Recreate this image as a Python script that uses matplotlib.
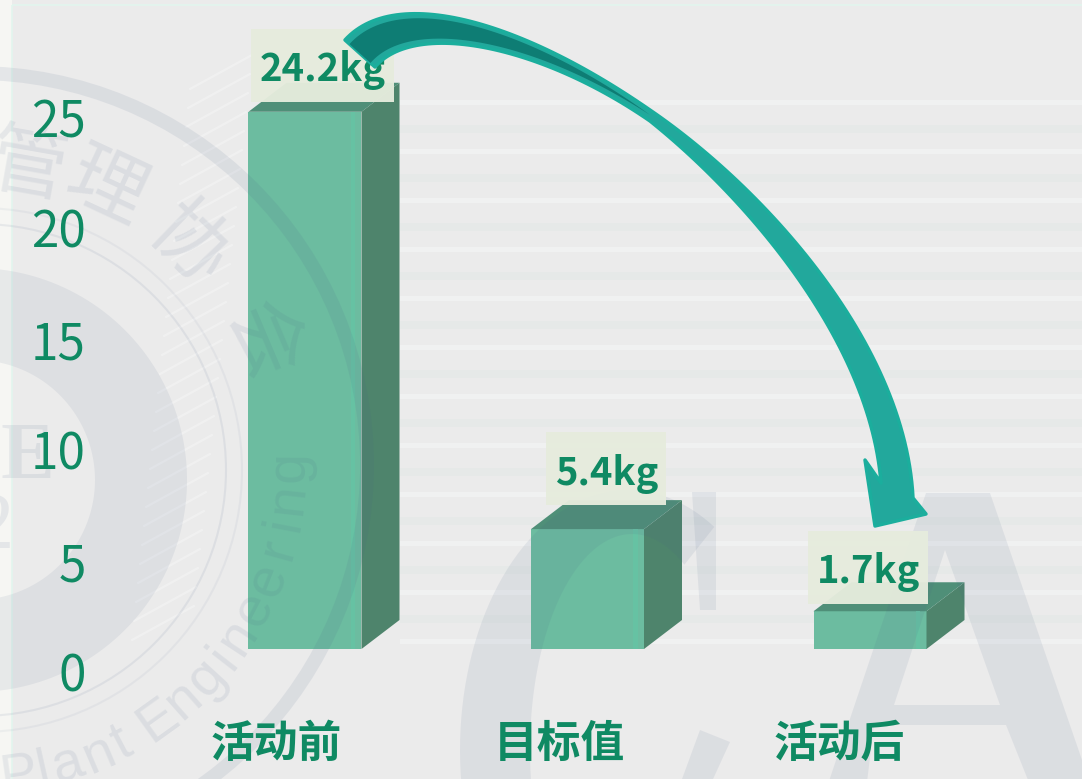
import numpy as np
import matplotlib
matplotlib.use("Agg")
import matplotlib.pyplot as plt
from matplotlib.patches import Polygon, Rectangle, Circle, PathPatch
from matplotlib.path import Path
from matplotlib.transforms import Affine2D, ScaledTranslation

plt.rcParams['font.family'] = ['Noto Sans CJK SC', 'DejaVu Sans']

# Chart data
categories = ['活动前', '目标值', '活动后']
values = [24.2, 5.4, 1.7]
value_labels = ['24.2kg', '5.4kg', '1.7kg']
y_ticks = [0, 5, 10, 15, 20, 25]

# Styling
GREEN_TEXT = '#0f8a63'
FRONT = '#6cbca0'
SIDE = '#4e846c'
TOP = '#4f8f78'
BG = '#ebebeb'
MARK = '#4a6288'

W, H = 1082, 779
fig = plt.figure(figsize=(W / 100, H / 100), dpi=100, facecolor=BG)
ax = fig.add_axes([0, 0, 1, 1], facecolor='none')

X0, XS = 305.0, 282.5     # pixel of category 0, pixels per category
Y0, YS = 649.0, 22.2      # pixel of value 0, pixels per unit
ax.set_xlim(-X0 / XS, (W - X0) / XS)
ax.set_ylim(-(H - Y0) / YS, Y0 / YS)
for s in ax.spines.values():
    s.set_visible(False)

# Image-style pixel coordinates, origin at top left
px = Affine2D().scale(1, -1).translate(0, H)


def bezier(p0, p1, p2, p3, n=60):
    """Sample a cubic Bezier segment."""
    t = np.linspace(0, 1, n)[:, None]
    p0, p1, p2, p3 = map(np.array, (p0, p1, p2, p3))
    return (1 - t) ** 3 * p0 + 3 * (1 - t) ** 2 * t * p1 + 3 * (1 - t) * t ** 2 * p2 + t ** 3 * p3


def ring_path(cx, cy, r_out, r_in):
    """Closed annulus as a compound path."""
    th = np.linspace(0, 2 * np.pi, 200)
    verts = np.concatenate([
        np.c_[cx + r_out * np.cos(th), cy + r_out * np.sin(th)],
        np.c_[cx + r_in * np.cos(th[::-1]), cy + r_in * np.sin(th[::-1])]])
    codes = [Path.MOVETO] + [Path.LINETO] * 199 + [Path.MOVETO] + [Path.LINETO] * 199
    return Path(verts, codes)


# ---- page background: pale frame and horizontal banding ----
ax.add_patch(Rectangle((0, 0), 12, H, transform=px, fc='#f6f6f3', ec='none', zorder=0))
ax.add_patch(Rectangle((12, 5), W, H, transform=px, fc='none', ec='#e2f5ee', lw=1.2, zorder=0.2))
for i, y in enumerate(np.arange(100, 640, 24.5)):
    col = '#f6f7f7' if i % 2 == 0 else '#e3e8e7'
    ax.add_patch(Rectangle((400, y), W - 400, 5 if i % 2 == 0 else 8, transform=px,
                           fc=col, ec='none', alpha=0.5, zorder=0.3))

# Pale diagonal hatching behind the bars
for k in range(30):
    x = 132 + k * 2
    y = 640 - k * 19
    ax.plot([x, x + 62], [y, y - 34], transform=px, color='#f7f8f8', lw=1.6, alpha=0.45,
            zorder=1, solid_capstyle='round')

# ---- 3D bars ----
DX, DY = 38 / XS, 29 / YS
half = 0.2
for i, v in enumerate(values):
    ax.bar(i, v, width=2 * half, color=FRONT, edgecolor='none', zorder=2)
    ax.bar(i + half - 0.03, v, width=0.015, color='#66c2a3', edgecolor='none', zorder=2.1)
    r, l = i + half, i - half
    ax.add_patch(Polygon([(r, 0), (r + DX, DY), (r + DX, v + DY), (r, v)],
                         fc=SIDE, ec='none', zorder=2))
    ax.add_patch(Polygon([(l, v), (l + DX, v + DY), (r + DX, v + DY), (r, v)],
                         fc=TOP, ec='none', zorder=2))

# ---- translucent emblem lying over the bars ----
CX, CY = -25, 465
wm = dict(transform=px, zorder=3, clip_on=True)
ax.add_patch(Circle((CX, CY), 392, fc='none', ec=MARK, alpha=0.10, lw=10, **wm))
ax.add_patch(Circle((CX + 5, CY + 5), 246, fc='none', ec=MARK, alpha=0.09, lw=1.5, **wm))
ax.add_patch(Circle((CX + 5, CY + 5), 262, fc='none', ec=MARK, alpha=0.06, lw=1.5, **wm))
ax.add_patch(PathPatch(ring_path(CX, CY + 15, 212, 120), fc=MARK, ec='none', alpha=0.085, **wm))
for ch, (x, y), rot in zip('管理协会', [(28, 168), (105, 190), (188, 246), (262, 342)],
                           [-10, -25, -44, -67]):
    ax.text(x, y, ch, transform=px, rotation=rot, rotation_mode='anchor', ha='center', va='center',
            fontsize=56, color=MARK, alpha=0.10, zorder=3)
ax.text(56, 458, 'PE', transform=px, ha='right', va='center', fontsize=58, fontweight='bold',
        family='Liberation Serif', color=MARK, alpha=0.10, zorder=3)
ax.text(14, 528, '2', transform=px, ha='right', va='center', fontsize=58,
        family='Liberation Serif', color=MARK, alpha=0.10, zorder=3)
caption = 'Plant Engineering'
steps = [0.62 if ch in 'ilt ' else 1.12 for ch in caption]
phi = 85.0
for ch, step in zip(caption, steps):
    phi -= step * 2.65
    x = CX + 315 * np.cos(np.radians(phi))
    y = CY + 315 * np.sin(np.radians(phi))
    ax.text(x, y, ch, transform=px, rotation=90 - phi, rotation_mode='anchor', ha='center',
            va='center', fontsize=40, family='Liberation Sans', color=MARK, alpha=0.10, zorder=3)
    phi -= step * 2.65

# Large letters at lower right
t2 = np.radians(np.linspace(-30, 215, 100))
outer = np.c_[628 + 168 * np.cos(t2), 750 - 260 * np.sin(t2)]
inner = np.c_[632 + 102 * np.cos(t2[::-1]), 750 - 216 * np.sin(t2[::-1])]
ax.add_patch(Polygon(np.vstack([outer[36:], inner[:64]]), fc=MARK, ec='none', alpha=0.095, **wm))
ax.add_patch(Polygon([(692, 492), (716, 492), (716, 610), (700, 610)], fc=MARK, ec='none', alpha=0.095, **wm))
ax.add_patch(Polygon([(700, 730), (730, 742), (708, 790), (678, 790)], fc=MARK, ec='none', alpha=0.095, **wm))
a_outline = [(926, 493), (990, 493), (1082, 760), (1082, 790), (1032, 790), (1006, 725),
             (874, 725), (866, 790), (826, 790), (926, 493)]
a_counter = [(945, 550), (894, 705), (1000, 705), (945, 550)]
a_codes = [Path.MOVETO] + [Path.LINETO] * (len(a_outline) - 1)
a_codes += [Path.MOVETO] + [Path.LINETO] * (len(a_counter) - 1)
ax.add_patch(PathPatch(Path(a_outline + a_counter, a_codes), fc=MARK, ec='none', alpha=0.095, **wm))

# ---- axis labels ----
ax.set_yticks(y_ticks)
ax.set_xticks(range(len(categories)))
ax.set_xticklabels(categories)
ax.tick_params(axis='y', length=0, pad=-61.8, labelsize=35.5, labelcolor=GREEN_TEXT)
ax.tick_params(axis='x', length=0, pad=-41, labelsize=31.5, labelcolor=GREEN_TEXT)
ax.xaxis.set_zorder(5)
ax.yaxis.set_zorder(5)
for lab in ax.get_yticklabels():
    lab.set_transform(lab.get_transform() + ScaledTranslation(0, -23 / 100, fig.dpi_scale_trans))
for lab, dx in zip(ax.get_xticklabels(), [-29, -28, -31]):
    lab.set_fontweight('bold')
    lab.set_transform(lab.get_transform() + ScaledTranslation(dx / 100, 0, fig.dpi_scale_trans))

# ---- value badges ----
badges = [(251, 29, 143, 73), (546, 432, 120, 73), (808, 531, 120, 73)]
for (x, y, w, h), label in zip(badges, value_labels):
    ax.add_patch(Rectangle((x, y), w, h, transform=px, fc='#e6ecdd', ec='none', alpha=0.96, zorder=4))
    ax.text(x + w / 2 + 0.5, y + h / 2 + 5, label, transform=px, ha='center', va='center',
            fontsize=27.5, fontweight='bold', color=GREEN_TEXT, zorder=5)

# ---- curved arrow ----
outer_a = bezier((345, 40), (395, -15), (520, 20), (650, 110))
outer_b = bezier((650, 110), (760, 185), (905, 340), (913, 498))
inner_a = bezier((375, 67), (415, 20), (540, 45), (650, 121))
inner_b = bezier((650, 121), (745, 197), (870, 340), (881, 483))
head = np.array([(926, 514), (875, 526), (865, 460)])
arrow = np.vstack([outer_a, outer_b, head, inner_b[::-1], inner_a[::-1]])
ax.add_patch(Polygon(arrow, closed=True, transform=px, fc='#22a89c', ec='#1bae9d', lw=2.5,
                     joinstyle='round', zorder=6))
# Darker inner band of the arrow's tail, tapering to a point
tt = np.linspace(0, 1, len(outer_a))[:, None]
band_top = outer_a + (0.15 + 0.30 * tt ** 4) * (inner_a - outer_a)
band_bot = outer_a + (0.85 - 0.40 * tt ** 4) * (inner_a - outer_a)
ax.add_patch(Polygon(np.vstack([band_top, band_bot[::-1]]), closed=True, transform=px,
                     fc='#0e7d74', ec='none', zorder=6.1))

fig.savefig('out.png', dpi=100, facecolor=BG)
